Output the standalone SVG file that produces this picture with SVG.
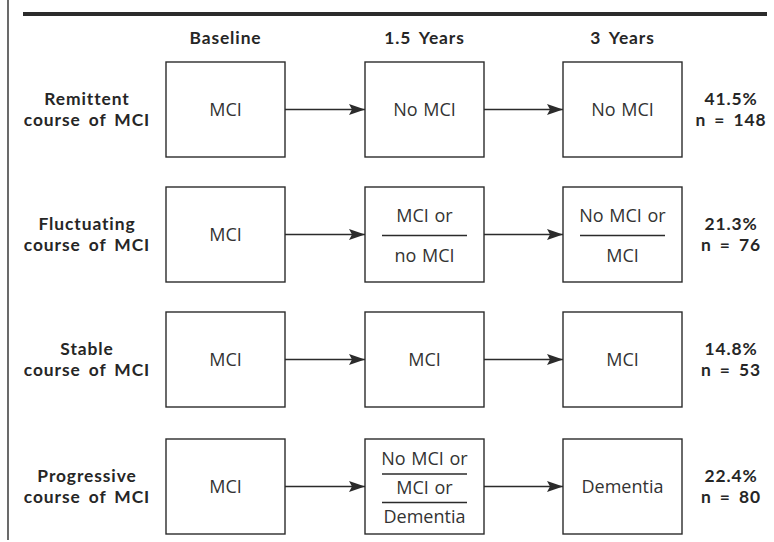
<svg xmlns="http://www.w3.org/2000/svg" width="774" height="542" viewBox="0 0 774 542">
  <style>
    .box { fill: #ffffff; stroke: #2b2b2b; stroke-width: 1.4; }
    .div { stroke: #2b2b2b; stroke-width: 1.4; }
    .conn { stroke: #2b2b2b; stroke-width: 1.5; fill: none; }
    .t { font-family: "Open Sans", "Liberation Sans", sans-serif; font-size: 18px; fill: #333333; text-anchor: middle; word-spacing: 1px; }
    .b { font-family: Lato, "Liberation Sans", sans-serif; font-size: 17.4px; font-weight: bold; fill: #262626; text-anchor: middle; letter-spacing: 0.9px; word-spacing: 3px; }
  </style>
  <defs>
    <marker id="arrow" markerUnits="userSpaceOnUse" markerWidth="17" markerHeight="12" refX="16" refY="5.5" orient="auto">
      <path d="M0,0 L16,5.5 L0,11 L3,5.5 z" fill="#2b2b2b"/>
    </marker>
  </defs>
  <rect x="0" y="0" width="774" height="542" fill="#ffffff"/>

  <!-- frame -->
  <g id="frame">
    <line x1="8" y1="0" x2="8" y2="540" stroke="#2b2b2b" stroke-width="1.4"/>
    <line x1="23" y1="14" x2="767" y2="14" stroke="#2b2b2b" stroke-width="4"/>
  </g>

  <!-- column headers -->
  <g id="headers">
    <text class="b" x="225.5" y="44">Baseline</text>
    <text class="b" x="424.5" y="44">1.5 Years</text>
    <text class="b" x="622.5" y="44">3 Years</text>
  </g>

  <!-- row labels -->
  <g id="label-remittent">
    <text class="b" x="87" y="105">Remittent</text>
    <text class="b" x="87" y="126">course of MCI</text>
  </g>
  <g id="label-fluctuating">
    <text class="b" x="87" y="230">Fluctuating</text>
    <text class="b" x="87" y="251">course of MCI</text>
  </g>
  <g id="label-stable">
    <text class="b" x="87" y="355">Stable</text>
    <text class="b" x="87" y="376">course of MCI</text>
  </g>
  <g id="label-progressive">
    <text class="b" x="87" y="482">Progressive</text>
    <text class="b" x="87" y="503">course of MCI</text>
  </g>

  <!-- percentages -->
  <g id="pct-remittent">
    <text class="b" x="731" y="105">41.5%</text>
    <text class="b" x="731" y="126">n = 148</text>
  </g>
  <g id="pct-fluctuating">
    <text class="b" x="731" y="230">21.3%</text>
    <text class="b" x="731" y="251">n = 76</text>
  </g>
  <g id="pct-stable">
    <text class="b" x="731" y="355">14.8%</text>
    <text class="b" x="731" y="376">n = 53</text>
  </g>
  <g id="pct-progressive">
    <text class="b" x="731" y="482">22.4%</text>
    <text class="b" x="731" y="503">n = 80</text>
  </g>

  <!-- row 1 -->
  <g id="r1-baseline">
    <rect class="box" x="166" y="62" width="119" height="95"/>
    <text class="t" x="225.5" y="116">MCI</text>
  </g>
  <g id="r1-15y">
    <rect class="box" x="365" y="62" width="119" height="95"/>
    <text class="t" x="424.5" y="116">No MCI</text>
  </g>
  <g id="r1-3y">
    <rect class="box" x="563" y="62" width="119" height="95"/>
    <text class="t" x="622.5" y="116">No MCI</text>
  </g>

  <!-- row 2 -->
  <g id="r2-baseline">
    <rect class="box" x="166" y="187" width="119" height="95"/>
    <text class="t" x="225.5" y="241">MCI</text>
  </g>
  <g id="r2-15y">
    <rect class="box" x="365" y="187" width="119" height="95"/>
    <text class="t" x="424.5" y="222">MCI or</text>
    <line class="div" x1="382" y1="235.5" x2="467" y2="235.5"/>
    <text class="t" x="424.5" y="262">no MCI</text>
  </g>
  <g id="r2-3y">
    <rect class="box" x="563" y="187" width="119" height="95"/>
    <text class="t" x="622.5" y="222">No MCI or</text>
    <line class="div" x1="580" y1="235.5" x2="665" y2="235.5"/>
    <text class="t" x="622.5" y="262">MCI</text>
  </g>

  <!-- row 3 -->
  <g id="r3-baseline">
    <rect class="box" x="166" y="312" width="119" height="95"/>
    <text class="t" x="225.5" y="366">MCI</text>
  </g>
  <g id="r3-15y">
    <rect class="box" x="365" y="312" width="119" height="95"/>
    <text class="t" x="424.5" y="366">MCI</text>
  </g>
  <g id="r3-3y">
    <rect class="box" x="563" y="312" width="119" height="95"/>
    <text class="t" x="622.5" y="366">MCI</text>
  </g>

  <!-- row 4 -->
  <g id="r4-baseline">
    <rect class="box" x="166" y="439" width="119" height="95"/>
    <text class="t" x="225.5" y="493">MCI</text>
  </g>
  <g id="r4-15y">
    <rect class="box" x="365" y="439" width="119" height="95"/>
    <text class="t" x="424.5" y="465">No MCI or</text>
    <line class="div" x1="382" y1="474" x2="467" y2="474"/>
    <text class="t" x="424.5" y="494">MCI or</text>
    <line class="div" x1="382" y1="502.5" x2="467" y2="502.5"/>
    <text class="t" x="424.5" y="523">Dementia</text>
  </g>
  <g id="r4-3y">
    <rect class="box" x="563" y="439" width="119" height="95"/>
    <text class="t" x="622.5" y="493">Dementia</text>
  </g>

  <!-- connectors -->
  <g id="connectors">
    <line class="conn" x1="285" y1="109.5" x2="365" y2="109.5" marker-end="url(#arrow)"/>
    <line class="conn" x1="484" y1="109.5" x2="563" y2="109.5" marker-end="url(#arrow)"/>
    <line class="conn" x1="285" y1="234.5" x2="365" y2="234.5" marker-end="url(#arrow)"/>
    <line class="conn" x1="484" y1="234.5" x2="563" y2="234.5" marker-end="url(#arrow)"/>
    <line class="conn" x1="285" y1="359.5" x2="365" y2="359.5" marker-end="url(#arrow)"/>
    <line class="conn" x1="484" y1="359.5" x2="563" y2="359.5" marker-end="url(#arrow)"/>
    <line class="conn" x1="285" y1="486.5" x2="365" y2="486.5" marker-end="url(#arrow)"/>
    <line class="conn" x1="484" y1="486.5" x2="563" y2="486.5" marker-end="url(#arrow)"/>
  </g>
</svg>
